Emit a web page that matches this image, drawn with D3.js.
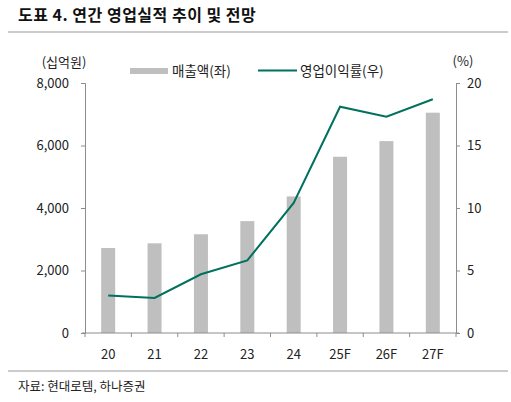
<!DOCTYPE html>
<html>
<head>
<meta charset="utf-8">
<script src="https://cdn.jsdelivr.net/npm/d3@7"></script>
<style>
  body { margin: 0; background: #fff; }
  text { font-family: "Noto Sans CJK KR", "Noto Sans", sans-serif; }
</style>
</head>
<body>
<svg id="chart" width="511" height="402"></svg>
<script>
var years = ["20", "21", "22", "23", "24", "25F", "26F", "27F"];
var sales = [2720, 2870, 3160, 3580, 4370, 5640, 6140, 7050];   // 매출액 (십억원)
var margin = [3.0, 2.8, 4.7, 5.8, 10.4, 18.1, 17.3, 18.7];     // 영업이익률 (%)
var leftTicks = [0, 2000, 4000, 6000, 8000];
var rightTicks = [0, 5, 10, 15, 20];

var svg = d3.select("#chart");
var axisColor = "#8c8c8c";
var textColor = "#222";

// plot box (note: "top" is reserved on window, so use plotTop)
var plotLeft = 85, plotRight = 456, plotTop = 83, plotBottom = 333;

var x = d3.scaleBand().domain(years).range([plotLeft, plotRight]);
var yL = d3.scaleLinear().domain([0, 8000]).range([plotBottom, plotTop]);
var yR = d3.scaleLinear().domain([0, 20]).range([plotBottom, plotTop]);

// title + rules
svg.append("text").attr("x", 18).attr("y", 21)
  .attr("font-size", 16).attr("font-weight", "bold").attr("fill", "#111")
  .attr("letter-spacing", 0.5)
  .text("도표 4. 연간 영업실적 추이 및 전망");
svg.append("line").attr("x1", 8).attr("x2", 508).attr("y1", 32).attr("y2", 32)
  .attr("stroke", "#999").attr("stroke-width", 1);
svg.append("line").attr("x1", 8).attr("x2", 508).attr("y1", 371).attr("y2", 371)
  .attr("stroke", "#999").attr("stroke-width", 1);
svg.append("text").attr("x", 18).attr("y", 391)
  .attr("font-size", 12.5).attr("fill", textColor)
  .text("자료: 현대로템, 하나증권");

// bars
var bw = 14;
svg.selectAll(".bar")
  .data(years)
  .enter().append("rect")
  .attr("class", "bar")
  .attr("x", function(d) { return x(d) + x.bandwidth() / 2 - bw / 2; })
  .attr("y", function(d, i) { return yL(sales[i]); })
  .attr("width", bw)
  .attr("height", function(d, i) { return plotBottom - yL(sales[i]); })
  .attr("fill", "#bfbfbf");

// axes
var gL = svg.append("g").attr("transform", "translate(" + plotLeft + ",0)")
  .call(d3.axisLeft(yL).tickValues(leftTicks).tickSize(4).tickPadding(12)
    .tickFormat(d3.format(",")));
var gR = svg.append("g").attr("transform", "translate(" + plotRight + ",0)")
  .call(d3.axisRight(yR).tickValues(rightTicks).tickSize(4).tickPadding(7));
var gX = svg.append("g").attr("transform", "translate(0," + plotBottom + ")")
  .call(d3.axisBottom(x).tickSize(0).tickPadding(17));

[gL, gR, gX].forEach(function(g) {
  g.select(".domain").attr("stroke", axisColor);
  g.selectAll(".tick line").attr("stroke", axisColor);
  g.selectAll("text").attr("font-size", 13).attr("fill", textColor)
    .attr("font-family", "'Noto Sans CJK KR', 'Noto Sans', sans-serif");
});
gX.select(".domain").attr("d", "M" + (plotLeft - 3) + ",0H" + (plotRight + 3));

// x boundary ticks
var bounds = years.map(function(d) { return x(d); }).concat([plotRight]);
svg.selectAll(".xtick")
  .data(bounds)
  .enter().append("line")
  .attr("x1", function(d) { return d; }).attr("x2", function(d) { return d; })
  .attr("y1", plotBottom).attr("y2", plotBottom + 4)
  .attr("stroke", axisColor);

// margin line
var line = d3.line()
  .x(function(d, i) { return x(years[i]) + x.bandwidth() / 2; })
  .y(function(d) { return yR(d); });
svg.append("path").datum(margin)
  .attr("d", line)
  .attr("fill", "none")
  .attr("stroke", "#00705f")
  .attr("stroke-width", 2);

// unit labels
svg.append("text").attr("x", 64).attr("y", 67).attr("text-anchor", "middle")
  .attr("font-size", 13).attr("fill", textColor).text("(십억원)");
svg.append("text").attr("x", 463).attr("y", 66).attr("text-anchor", "middle")
  .attr("font-size", 13).attr("fill", textColor).text("(%)");

// legend
svg.append("rect").attr("x", 130).attr("y", 68).attr("width", 38).attr("height", 6)
  .attr("fill", "#bfbfbf");
svg.append("text").attr("x", 172).attr("y", 75.5).attr("font-size", 13.5)
  .attr("fill", textColor).text("매출액(좌)");
svg.append("line").attr("x1", 258).attr("x2", 297).attr("y1", 70.5).attr("y2", 70.5)
  .attr("stroke", "#00705f").attr("stroke-width", 2);
svg.append("text").attr("x", 300).attr("y", 75.5).attr("font-size", 13.5)
  .attr("fill", textColor).text("영업이익률(우)");
</script>
</body>
</html>
